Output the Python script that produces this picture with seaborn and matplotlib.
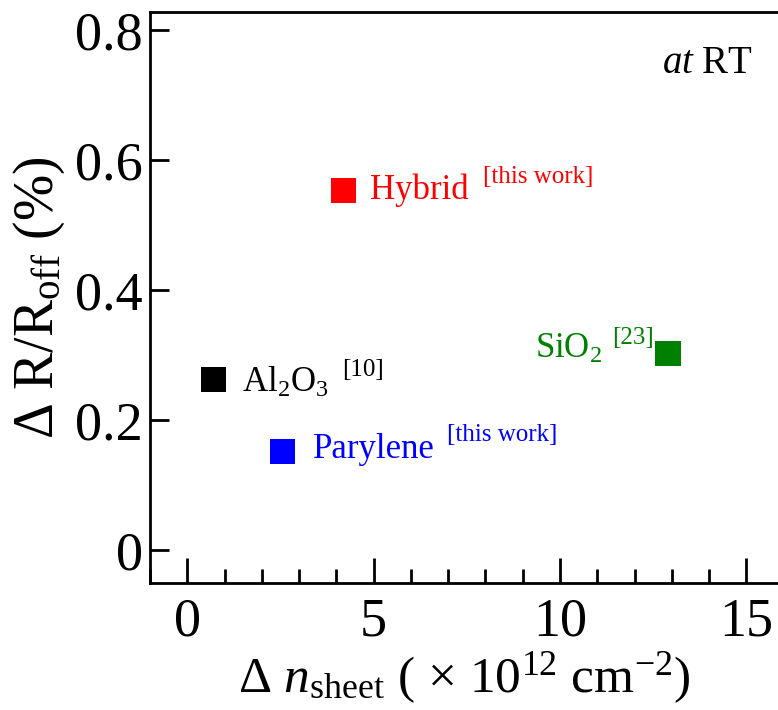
import matplotlib
matplotlib.use("Agg")
import matplotlib.pyplot as plt
import seaborn as sns
import pandas as pd
from matplotlib.ticker import MultipleLocator

materials = ["Hybrid", "Al2O3", "Parylene", "SiO2"]
delta_n = [4.2, 0.7, 2.55, 12.9]
delta_r = [0.553, 0.262, 0.152, 0.302]
colors = ["#ff0000", "#000000", "#0000ff", "#008000"]
refs = ["[this work]", "[10]", "[this work]", "[23]"]

sns.set_theme(style="white")
plt.rcParams["font.family"] = ["Liberation Serif", "DejaVu Serif"]
plt.rcParams["mathtext.fontset"] = "custom"
plt.rcParams["mathtext.rm"] = "Liberation Serif"
plt.rcParams["mathtext.it"] = "Liberation Serif:italic"
plt.rcParams["mathtext.bf"] = "Liberation Serif:bold"

df = pd.DataFrame({"material": materials, "dn": delta_n, "dr": delta_r})

fig = plt.figure(figsize=(7.78, 7.10), dpi=100)
ax = fig.add_axes([150/778, (710-583)/710, 1 - 150/778, (583-12)/710])

sns.scatterplot(data=df, x="dn", y="dr", hue="material", palette=dict(zip(materials, colors)),
                marker="s", s=330, linewidth=0, legend=False, ax=ax, zorder=3)

ax.set_xlim(-1.0, 15.85)
ax.set_ylim(-0.0508, 0.8277)
ax.xaxis.set_minor_locator(MultipleLocator(1))
ax.set_yticks([0, 0.2, 0.4, 0.6, 0.8])
ax.set_yticklabels(["0", "0.2", "0.4", "0.6", "0.8"])
ax.set_xticks([0, 5, 10, 15])
ax.set_xticklabels(["0", "5", "10", "15"])

for s in ["left", "bottom", "top"]:
    ax.spines[s].set_linewidth(2)
    ax.spines[s].set_color("black")
ax.spines["right"].set_visible(False)

ax.tick_params(axis="both", which="major", direction="in", labelsize=39, width=2, color="black",
               labelcolor="black")
ax.tick_params(axis="x", which="major", length=18, pad=10)
ax.tick_params(axis="x", which="minor", direction="in", length=10, width=2, color="black")
ax.tick_params(axis="y", which="major", length=14, pad=5)
ax.tick_params(left=True, bottom=True, top=False, right=False)
ax.tick_params(axis="x", which="minor", bottom=True, top=False)

ax.set_xlabel(r"Δ $n_{\mathrm{sheet}}$ ( $\times$ 10$^{12}$ cm$^{\mathrm{-2}}$)", fontsize=37, color="black", labelpad=2)
ax.set_ylabel(r"Δ R/R$_{\mathrm{off}}$ (%)", fontsize=40, color="black", labelpad=6)

# annotation labels (offsets in pixels -> points)
def px(v):
    return v * 72 / 100

labels = [r"Hybrid", r"Al$_2$O$_3$", r"Parylene", r"SiO$_2$"]
label_off = [(26, 0), (29, -3), (31, 2), (-133, 4)]
ref_off = [(139, 14), (129, 10), (165, 16), (-56, 16)]
for lab, rf, x, y, c, lo, ro in zip(labels, refs, delta_n, delta_r, colors, label_off, ref_off):
    ax.annotate(lab, (x, y), xytext=(px(lo[0]), px(lo[1])), textcoords="offset points",
                color=c, fontsize=25, ha="left", va="center")
    ax.annotate(rf, (x, y), xytext=(px(ro[0]), px(ro[1])), textcoords="offset points",
                color=c, fontsize=18, ha="left", va="center")

ax.text(0.96, 0.91, r"$\mathit{at}$ RT", transform=ax.transAxes, fontsize=28,
        ha="right", va="center", color="black")

fig.savefig("out.png", dpi=100)
